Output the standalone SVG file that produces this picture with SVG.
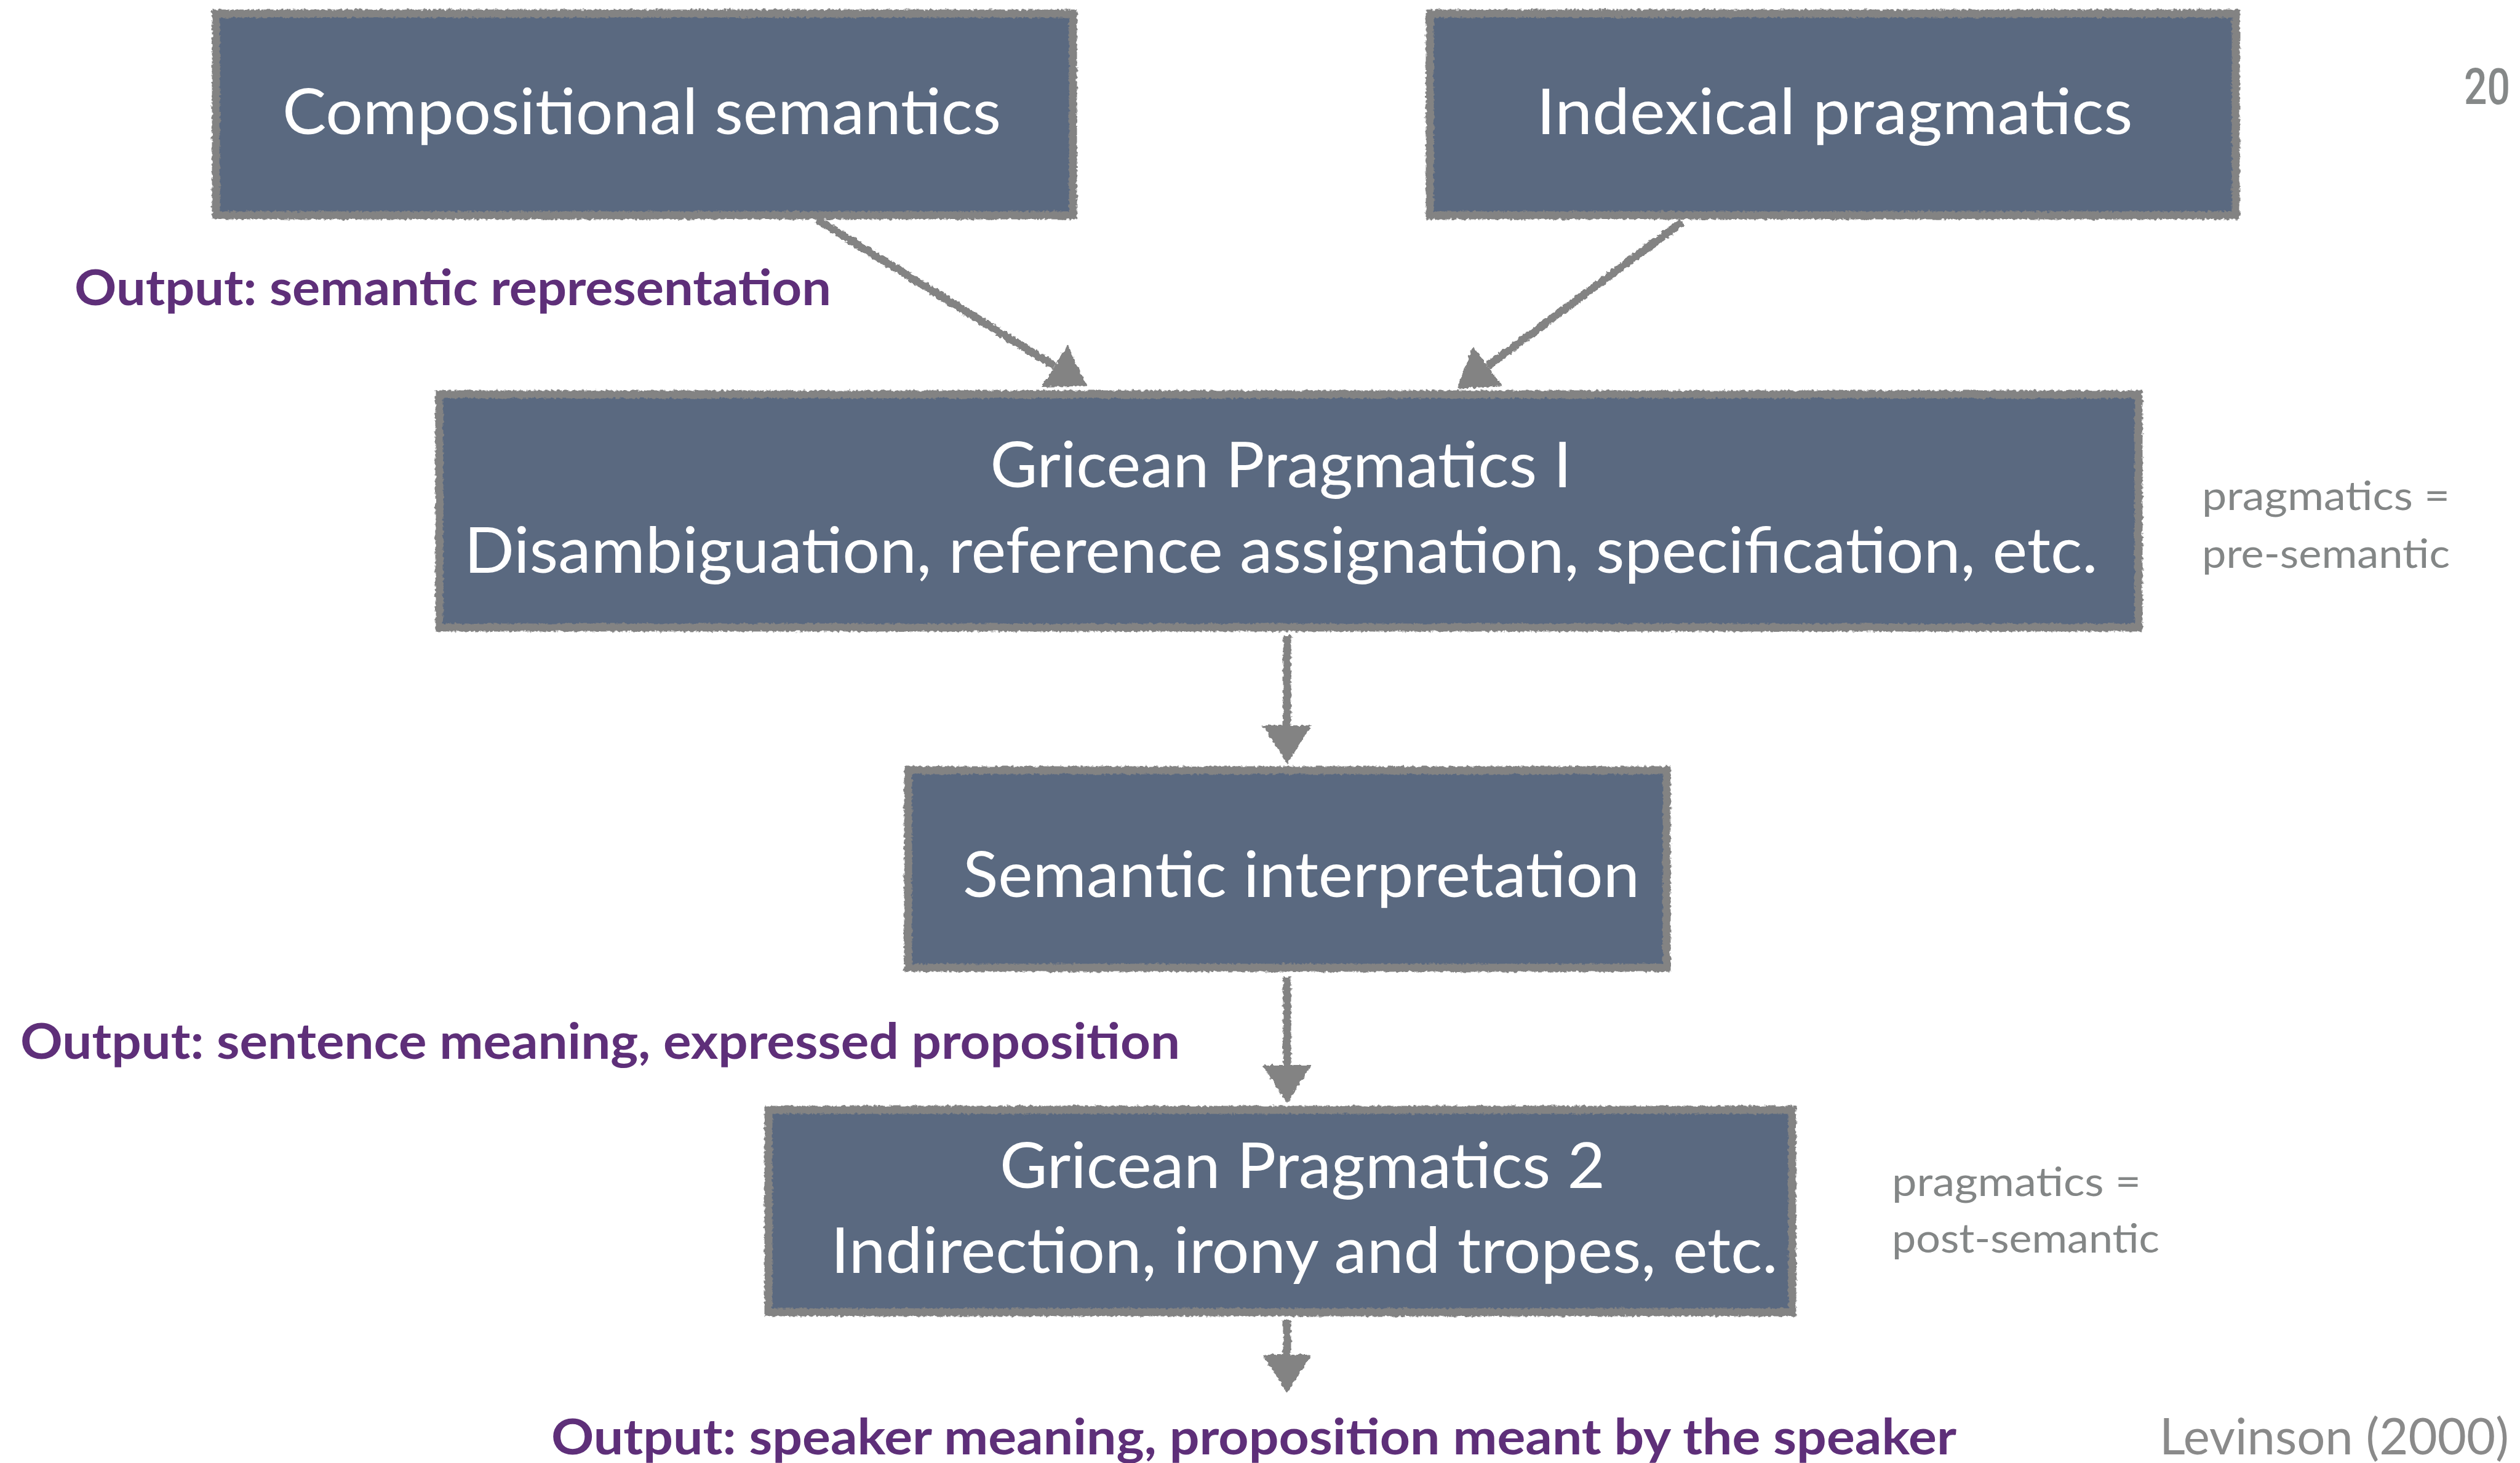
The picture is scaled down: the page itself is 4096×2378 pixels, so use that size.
<svg xmlns="http://www.w3.org/2000/svg" width="4096" height="2378" viewBox="0 0 4096 2378">
  <defs>
    <style>
      .box-fill { fill: #5a6980; }
      .box-edge { fill: none; stroke: #838383; stroke-width: 13; }
      .box-text { font-family: Lato, "Open Sans", "Liberation Sans", sans-serif; font-size: 102px; fill: #ffffff; text-anchor: middle; }
      .out-text { font-family: Lato, "Open Sans", "Liberation Sans", sans-serif; font-weight: 700; font-size: 81px; fill: #5e2f79; }
      .side-text { font-family: Lato, "Open Sans", "Liberation Sans", sans-serif; font-size: 66px; fill: #838686; }
      .cite-text { font-family: Lato, "Open Sans", "Liberation Sans", sans-serif; font-size: 81px; fill: #8a8a8a; }
      .page-num { font-family: Roboto, "Liberation Sans", sans-serif; font-weight: 500; font-size: 81px; fill: #858888; }
      .link { fill: none; stroke: #838383; stroke-width: 13; marker-end: url(#head); }
    </style>
    <!-- chalky, hand-drawn roughness for borders and arrows -->
    <filter id="rough" filterUnits="userSpaceOnUse" x="0" y="0" width="4096" height="2378">
      <feTurbulence type="fractalNoise" baseFrequency="0.18" numOctaves="2" seed="7" result="noise"/>
      <feDisplacementMap in="SourceGraphic" in2="noise" scale="7" xChannelSelector="R" yChannelSelector="G"/>
    </filter>
    <marker id="head" markerUnits="userSpaceOnUse" viewBox="0 0 62 80" refX="0" refY="40" markerWidth="62" markerHeight="80" orient="auto">
      <path d="M0,0 L62,40 L0,80 Z" fill="#838383"/>
    </marker>
  </defs>

  <rect width="4096" height="2378" fill="#ffffff"/>

  <!-- connectors -->
  <g id="connectors" filter="url(#rough)">
    <line class="link" x1="1328" y1="357" x2="1714" y2="595"/>
    <line class="link" x1="2734" y1="361" x2="2418" y2="595"/>
    <line class="link" x1="2092" y1="1033" x2="2092" y2="1179"/>
    <line class="link" x1="2092" y1="1588" x2="2092" y2="1731"/>
    <line class="link" x1="2092" y1="2146" x2="2092" y2="2202"/>
  </g>

  <!-- nodes -->
  <g id="compositional-semantics">
    <rect class="box-fill" x="351" y="22" width="1393" height="328"/>
    <rect class="box-edge" x="351" y="22" width="1393" height="328" filter="url(#rough)"/>
    <text class="box-text" x="1043" y="218" textLength="1168" lengthAdjust="spacingAndGlyphs">Compositional semantics</text>
  </g>

  <g id="indexical-pragmatics">
    <rect class="box-fill" x="2324" y="22" width="1310" height="328"/>
    <rect class="box-edge" x="2324" y="22" width="1310" height="328" filter="url(#rough)"/>
    <text class="box-text" x="2982" y="218" textLength="969" lengthAdjust="spacingAndGlyphs">Indexical pragmatics</text>
  </g>

  <g id="gricean-pragmatics-1">
    <rect class="box-fill" x="714" y="641" width="2762" height="379"/>
    <rect class="box-edge" x="714" y="641" width="2762" height="379" filter="url(#rough)"/>
    <text class="box-text" x="2082" y="792" textLength="945" lengthAdjust="spacingAndGlyphs">Gricean Pragmatics I</text>
    <text class="box-text" x="2082" y="931" textLength="2655" lengthAdjust="spacingAndGlyphs">Disambiguation, reference assignation, specification, etc.</text>
  </g>

  <g id="semantic-interpretation">
    <rect class="box-fill" x="1476" y="1252" width="1233" height="321"/>
    <rect class="box-edge" x="1476" y="1252" width="1233" height="321" filter="url(#rough)"/>
    <text class="box-text" x="2115" y="1458" textLength="1100" lengthAdjust="spacingAndGlyphs">Semantic interpretation</text>
  </g>

  <g id="gricean-pragmatics-2">
    <rect class="box-fill" x="1249" y="1804" width="1664" height="329"/>
    <rect class="box-edge" x="1249" y="1804" width="1664" height="329" filter="url(#rough)"/>
    <text class="box-text" x="2117" y="1931" textLength="984" lengthAdjust="spacingAndGlyphs">Gricean Pragmatics 2</text>
    <text class="box-text" x="2120" y="2069" textLength="1539" lengthAdjust="spacingAndGlyphs">Indirection, irony and tropes, etc.</text>
  </g>

  <!-- output annotations -->
  <g id="output-labels">
    <text class="out-text" x="121" y="496" textLength="1230" lengthAdjust="spacingAndGlyphs">Output: semantic representation</text>
    <text class="out-text" x="33" y="1721" textLength="1885" lengthAdjust="spacingAndGlyphs">Output: sentence meaning, expressed proposition</text>
    <text class="out-text" x="896" y="2364" textLength="2284" lengthAdjust="spacingAndGlyphs">Output: speaker meaning, proposition meant by the speaker</text>
  </g>

  <!-- side notes -->
  <g id="side-notes">
    <text class="side-text" x="3579" y="829" textLength="403" lengthAdjust="spacingAndGlyphs">pragmatics =</text>
    <text class="side-text" x="3579" y="923" textLength="403" lengthAdjust="spacingAndGlyphs">pre-semantic</text>
    <text class="side-text" x="3075" y="1944" textLength="405" lengthAdjust="spacingAndGlyphs">pragmatics =</text>
    <text class="side-text" x="3075" y="2036" textLength="435" lengthAdjust="spacingAndGlyphs">post-semantic</text>
  </g>

  <text class="cite-text" x="3510" y="2364" textLength="568" lengthAdjust="spacingAndGlyphs">Levinson (2000)</text>
  <text class="page-num" x="4005" y="169" textLength="75" lengthAdjust="spacingAndGlyphs">20</text>
</svg>
